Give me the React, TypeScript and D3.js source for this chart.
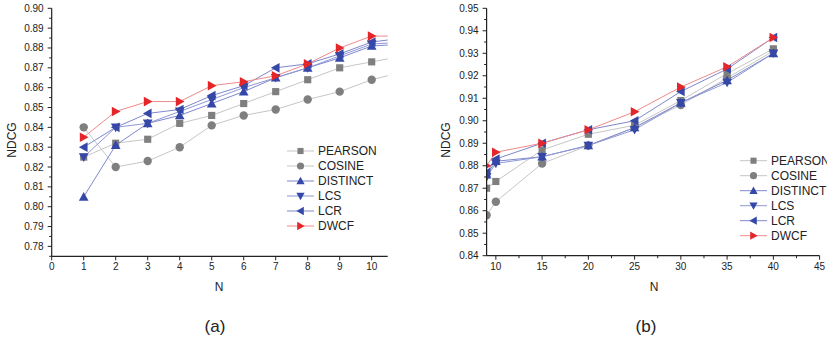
import React from "react";
import * as d3 from "d3";

const seriesNames = ["PEARSON", "COSINE", "DISTINCT", "LCS", "LCR", "DWCF"];
const markerTypes = ["square", "circle", "up", "down", "left", "right"];
const markerColors = ["#7f7f7f", "#7f7f7f", "#3548a8", "#3548a8", "#3548a8", "#e4262a"];
const lineColors = ["#c6c6c6", "#c6c6c6", "#7f88cc", "#8f97d6", "#7f88cc", "#f08a8a"];

// Chart (a)
const nA = [1, 2, 3, 4, 5, 6, 7, 8, 9, 10, 11];
const pearsonA = [0.825, 0.832, 0.834, 0.842, 0.846, 0.852, 0.858, 0.864, 0.870, 0.873, 0.876];
const cosineA = [0.840, 0.820, 0.823, 0.830, 0.841, 0.846, 0.849, 0.854, 0.858, 0.864, 0.868];
const distinctA = [0.805, 0.831, 0.842, 0.846, 0.852, 0.858, 0.865, 0.870, 0.875, 0.881, 0.882];
const lcsA = [0.825, 0.840, 0.842, 0.848, 0.854, 0.860, 0.865, 0.870, 0.876, 0.882, 0.883];
const lcrA = [0.830, 0.840, 0.847, 0.849, 0.856, 0.861, 0.870, 0.872, 0.877, 0.883, 0.885];
const dwcfA = [0.835, 0.848, 0.853, 0.853, 0.861, 0.863, 0.866, 0.872, 0.880, 0.886, 0.886];
const xTicksA = [0, 1, 2, 3, 4, 5, 6, 7, 8, 9, 10];
const yTicksA = [0.78, 0.79, 0.80, 0.81, 0.82, 0.83, 0.84, 0.85, 0.86, 0.87, 0.88, 0.89, 0.90];

// Chart (b)
const nB = [9, 10, 15, 20, 25, 30, 35, 40];
const pearsonB = [0.870, 0.873, 0.887, 0.894, 0.898, 0.909, 0.921, 0.932];
const cosineB = [0.858, 0.864, 0.881, 0.889, 0.897, 0.907, 0.919, 0.931];
const distinctB = [0.876, 0.882, 0.884, 0.889, 0.897, 0.908, 0.918, 0.930];
const lcsB = [0.875, 0.881, 0.884, 0.889, 0.896, 0.908, 0.917, 0.930];
const lcrB = [0.877, 0.883, 0.890, 0.896, 0.900, 0.913, 0.923, 0.937];
const dwcfB = [0.880, 0.886, 0.890, 0.896, 0.904, 0.915, 0.924, 0.937];
const xTicksB = [10, 15, 20, 25, 30, 35, 40, 45];
const yTicksB = [0.84, 0.85, 0.86, 0.87, 0.88, 0.89, 0.90, 0.91, 0.92, 0.93, 0.94, 0.95];

const FONT = "'Liberation Sans', Arial, sans-serif";

function Marker({ type, x, y, color, s = 4.2 }: any) {
  if (type === "square") return <rect x={x - s * 0.85} y={y - s * 0.85} width={s * 1.7} height={s * 1.7} fill={color} />;
  if (type === "circle") return <circle cx={x} cy={y} r={s} fill={color} />;
  let pts: number[][] = [];
  const a = s * 1.15;
  if (type === "up") pts = [[x, y - a], [x + a, y + a * 0.8], [x - a, y + a * 0.8]];
  if (type === "down") pts = [[x, y + a], [x + a, y - a * 0.8], [x - a, y - a * 0.8]];
  if (type === "left") pts = [[x - a, y], [x + a * 0.8, y - a], [x + a * 0.8, y + a]];
  if (type === "right") pts = [[x + a, y], [x - a * 0.8, y - a], [x - a * 0.8, y + a]];
  return <polygon points={pts.map((p) => p.join(",")).join(" ")} fill={color} />;
}

function Chart({ id, xs, series, xDomain, xRange, yDomain, yRange, xTicks, xMinor, yTicks, yMinor, yFmt, legendX, legendY, nx, ny, ax, ay, label, lx }: any) {
  const x = d3.scaleLinear().domain(xDomain).range(xRange);
  const y = d3.scaleLinear().domain(yDomain).range(yRange);
  const line = d3.line<[number, number]>().x((d) => x(d[0])).y((d) => y(d[1]));
  const yTop = y(yTicks[yTicks.length - 1]);
  return (
    <g>
      <defs>
        <clipPath id={id}>
          <rect x={xRange[0]} y={0} width={xRange[1] - xRange[0]} height={yRange[0]} />
        </clipPath>
      </defs>
      <g clipPath={`url(#${id})`}>
        {series.map((vals: number[], i: number) => (
          <path key={"l" + i} d={line(xs.map((v: number, j: number) => [v, vals[j]]) as any) || ""} fill="none" stroke={lineColors[i]} strokeWidth={1} />
        ))}
        {series.map((vals: number[], i: number) =>
          xs.map((v: number, j: number) => (
            <Marker key={"m" + i + "-" + j} type={markerTypes[i]} x={x(v)} y={y(vals[j])} color={markerColors[i]} />
          ))
        )}
      </g>
      {/* axes */}
      <line x1={xRange[0]} x2={xRange[0]} y1={yTop} y2={yRange[0]} stroke="#222" strokeWidth={1.2} />
      <line x1={xRange[0]} x2={xRange[1]} y1={yRange[0]} y2={yRange[0]} stroke="#222" strokeWidth={1.2} />
      {yTicks.map((t: number) => (
        <g key={"yt" + t}>
          <line x1={xRange[0] - 4} x2={xRange[0]} y1={y(t)} y2={y(t)} stroke="#222" strokeWidth={1} />
          <text x={xRange[0] - 8} y={y(t)} dy="0.35em" textAnchor="end" fontSize={10} fontFamily={FONT} fill="#222">{yFmt(t)}</text>
        </g>
      ))}
      {yMinor.map((t: number) => (
        <line key={"ym" + t} x1={xRange[0] - 2.5} x2={xRange[0]} y1={y(t)} y2={y(t)} stroke="#222" strokeWidth={1} />
      ))}
      {xTicks.map((t: number) => (
        <g key={"xt" + t}>
          <line x1={x(t)} x2={x(t)} y1={yRange[0]} y2={yRange[0] + 4} stroke="#222" strokeWidth={1} />
          <text x={x(t)} y={yRange[0] + 14} textAnchor="middle" fontSize={10} fontFamily={FONT} fill="#222">{t}</text>
        </g>
      ))}
      {xMinor.map((t: number) => (
        <line key={"xm" + t} x1={x(t)} x2={x(t)} y1={yRange[0]} y2={yRange[0] + 2.5} stroke="#222" strokeWidth={1} />
      ))}
      <text x={nx} y={ny} textAnchor="middle" fontSize={12} fontFamily={FONT} fill="#222">N</text>
      <text transform={`translate(${ax},${ay}) rotate(-90)`} textAnchor="middle" fontSize={12} fontFamily={FONT} fill="#222">NDCG</text>
      <text x={lx} y={332} textAnchor="middle" fontSize={17} fontFamily={FONT} fill="#222">{label}</text>
      {seriesNames.map((name, i) => (
        <g key={"lg" + i}>
          <line x1={legendX} x2={legendX + 27} y1={legendY + i * 15} y2={legendY + i * 15} stroke={lineColors[i]} strokeWidth={1} />
          <Marker type={markerTypes[i]} x={legendX + 13.5} y={legendY + i * 15} color={markerColors[i]} s={3.6} />
          <text x={legendX + 31} y={legendY + i * 15} dy="0.36em" fontSize={12} fontFamily={FONT} fill="#222">{name}</text>
        </g>
      ))}
    </g>
  );
}

export default function App() {
  const seriesA = [pearsonA, cosineA, distinctA, lcsA, lcrA, dwcfA];
  const seriesB = [pearsonB, cosineB, distinctB, lcsB, lcrB, dwcfB];
  const yMinorA = d3.range(0, 25).map((i) => 0.775 + i * 0.01).filter((v) => v < 0.9);
  const yMinorB = d3.range(0, 11).map((i) => 0.845 + i * 0.01);
  const xMinorB = d3.range(0, 7).map((i) => 12.5 + i * 5);
  return (
    <svg width={827} height={343} style={{ position: "absolute", left: 0, top: 0 }}>
      <rect width={827} height={343} fill="#fff" />
      <Chart
        id="clipA"
        xs={nA}
        series={seriesA}
        xDomain={[0, 10.5]}
        xRange={[51.7, 51.7 + 10.5 * 32]}
        yDomain={[0.775, 0.9]}
        yRange={[256.3, 8.3]}
        xTicks={xTicksA}
        xMinor={[]}
        yTicks={yTicksA}
        yMinor={yMinorA}
        yFmt={d3.format(".2f")}
        legendX={287}
        legendY={151}
        nx={219}
        ny={291}
        ax={16}
        ay={140}
        label="(a)"
        lx={215}
      />
      <Chart
        id="clipB"
        xs={nB}
        series={seriesB}
        xDomain={[9, 45]}
        xRange={[486.6, 486.6 + 36 * 9.25]}
        yDomain={[0.84, 0.95]}
        yRange={[255.7, 8.3]}
        xTicks={xTicksB}
        xMinor={xMinorB}
        yTicks={yTicksB}
        yMinor={yMinorB}
        yFmt={d3.format(".2f")}
        legendX={740}
        legendY={160.7}
        nx={654}
        ny={291}
        ax={450}
        ay={140}
        label="(b)"
        lx={646}
      />
    </svg>
  );
}
